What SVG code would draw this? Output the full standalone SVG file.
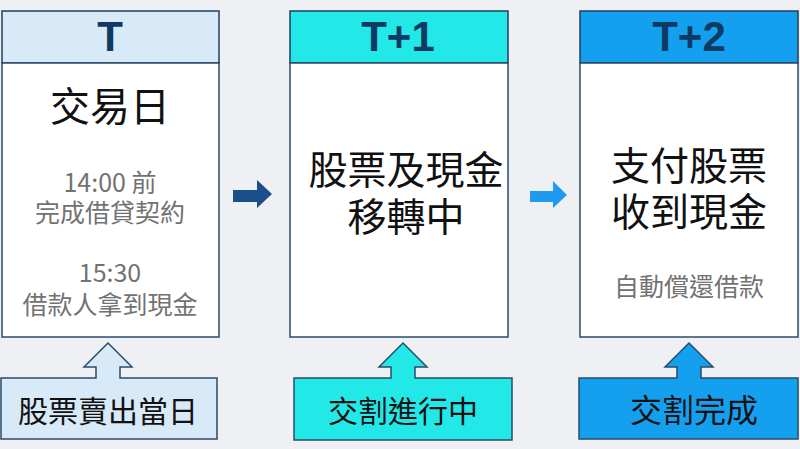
<svg xmlns="http://www.w3.org/2000/svg" width="800" height="449" viewBox="0 0 800 449">
  <defs>
    <style>
      .hdr { stroke: #1f3f5e; stroke-width: 1.5; }
      .body { fill: #ffffff; stroke: #2a4b6b; stroke-width: 1.5; }
      .tag { stroke: #2a4b6b; stroke-width: 1.5; stroke-linejoin: miter; }
      .htxt { font-family: "Liberation Sans", Arial, sans-serif; font-weight: bold; font-size: 42px; fill: #0f3a63; text-anchor: middle; }
      .main { font-family: "Noto Sans CJK TC", "Noto Sans", sans-serif; fill: #111111; text-anchor: middle; }
      .sub { font-family: "Noto Sans CJK TC", "Noto Sans", sans-serif; fill: #727272; text-anchor: middle; font-size: 25px; }
      .c1 { fill: #d8e9f7; }
      .c2 { fill: #22e8e8; }
      .c3 { fill: #14a0ef; }
    </style>
  </defs>
  <rect width="800" height="449" fill="#eef0f3"/>

  <g id="col-T">
    <rect class="hdr c1" x="2" y="11" width="217" height="52"/>
    <text class="htxt" x="110" y="51">T</text>
    <rect class="body" x="2" y="63" width="217" height="274"/>
    <text class="main" x="110" y="121" font-size="40">交易日</text>
    <text class="sub" x="110" y="192">14:00 前</text>
    <text class="sub" x="110" y="222">完成借貸契約</text>
    <text class="sub" x="110" y="282">15:30</text>
    <text class="sub" x="110" y="314">借款人拿到現金</text>
  </g>

  <g id="col-T1">
    <rect class="hdr c2" x="290" y="11" width="218" height="52"/>
    <text class="htxt" x="398" y="51">T+1</text>
    <rect class="body" x="290" y="63" width="218" height="274"/>
    <text class="main" x="406" y="184" font-size="39">股票及現金</text>
    <text class="main" x="406" y="231" font-size="39">移轉中</text>
  </g>

  <g id="col-T2">
    <rect class="hdr c3" x="580" y="11" width="218" height="52"/>
    <text class="htxt" x="689" y="51">T+2</text>
    <rect class="body" x="580" y="63" width="218" height="274"/>
    <text class="main" x="689" y="180" font-size="39">支付股票</text>
    <text class="main" x="689" y="226" font-size="39">收到現金</text>
    <text class="sub" x="689" y="296">自動償還借款</text>
  </g>

  <g id="tag-T">
    <path class="tag c1" d="M1,378 L96,378 L96,367 L84,367 L108,343 L132,367 L120,367 L120,378 L217,378 L217,439 L1,439 Z"/>
    <text class="main" x="108" y="422" font-size="30">股票賣出當日</text>
  </g>

  <g id="tag-T1">
    <path class="tag c2" d="M294,378 L391,378 L391,367 L379,367 L403,343 L427,367 L415,367 L415,378 L512,378 L512,440 L294,440 Z"/>
    <text class="main" x="403" y="422" font-size="30">交割進行中</text>
  </g>

  <g id="tag-T2">
    <path class="tag c3" d="M579,378 L677,378 L677,367 L665,367 L689,343 L713,367 L701,367 L701,378 L798,378 L798,439 L579,439 Z"/>
    <text class="main" x="694" y="422" font-size="32">交割完成</text>
  </g>

  <g id="connectors">
    <path d="M233,190 L257,190 L257,180 L272,194 L257,208 L257,202 L233,202 Z" fill="#1b4f8c"/>
    <path d="M530,191 L553,191 L553,181 L567,195 L553,208 L553,202 L530,202 Z" fill="#1e9bf0"/>
  </g>
</svg>
